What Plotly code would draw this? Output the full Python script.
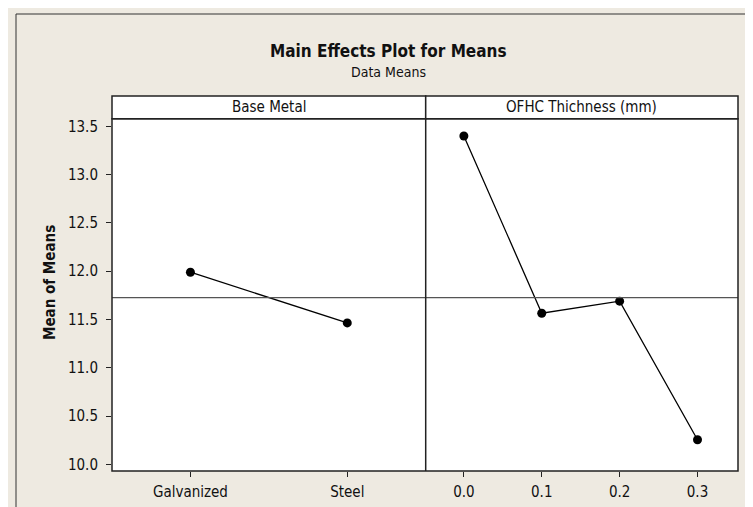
import numpy as np
import plotly.graph_objects as go

# ---- data ----
base_metal_levels = ["Galvanized", "Steel"]
base_metal_means = [11.99, 11.465]
thickness_levels = [0.0, 0.1, 0.2, 0.3]
thickness_means = [13.40, 11.565, 11.69, 10.255]
y_ticks = [10.0, 10.5, 11.0, 11.5, 12.0, 12.5, 13.0, 13.5]
x2_ticks = [0.0, 0.1, 0.2, 0.3]
panel_titles = ["Base Metal", "OFHC Thichness (mm)"]
grand_mean = float(np.mean(thickness_means))

FONT = "DejaVu Sans Condensed, DejaVu Sans, Liberation Sans, sans-serif"
BG = "#EEEAE1"
W, H = 753, 507
L, R, T, B = 104, 23, 88, 44
PW, PH = W - L - R, H - T - B

def px_x(p):
    return (p - L) / PW

def px_y(p):
    return 1 - (p - T) / PH

split = px_x(417.7)
ytop = px_y(110.7)

fig = go.Figure()
fig.add_trace(go.Scatter(
    x=[1, 2], y=base_metal_means, mode="lines+markers",
    line=dict(color="black", width=1.3),
    marker=dict(color="black", size=9),
    xaxis="x", yaxis="y", showlegend=False))
fig.add_trace(go.Scatter(
    x=thickness_levels, y=thickness_means, mode="lines+markers",
    line=dict(color="black", width=1.3),
    marker=dict(color="black", size=9),
    xaxis="x2", yaxis="y2", showlegend=False))

yr = [9.932, 13.579]
axis_common = dict(showline=False, showgrid=False, zeroline=False, ticks="outside",
                   ticklen=5, tickwidth=1.2, tickcolor="#222",
                   tickfont=dict(family=FONT, size=15, color="#111"))

fig.update_layout(
    width=W, height=H,
    margin=dict(l=L, r=R, t=T, b=B, pad=0),
    paper_bgcolor=BG, plot_bgcolor="white",
    xaxis=dict(domain=[0, split], range=[0.5, 2.5], tickvals=[1, 2],
               ticktext=base_metal_levels, anchor="y", ticklabelstandoff=2, **axis_common),
    xaxis2=dict(domain=[split, 1], range=[-0.049, 0.352], tickvals=x2_ticks,
                ticktext=[f"{v:.1f}" for v in x2_ticks], anchor="y2", ticklabelstandoff=2,
                **axis_common),
    yaxis=dict(domain=[0, ytop], range=yr, tickvals=y_ticks,
               ticktext=[f"{v:.1f}" for v in y_ticks], anchor="x", ticklabelstandoff=5,
               **axis_common),
    yaxis2=dict(domain=[0, ytop], range=yr, anchor="x2", showticklabels=False,
                showline=False, showgrid=False, zeroline=False, ticks=""),
)

shapes = []
# outer frame
shapes.append(dict(type="rect", xref="paper", yref="paper",
                   x0=px_x(8), x1=px_x(770), y0=px_y(6), y1=px_y(530),
                   line=dict(color="#333", width=1), fillcolor="rgba(0,0,0,0)", layer="below"))
# header strips
for x0, x1 in [(0, split), (split, 1)]:
    shapes.append(dict(type="rect", xref="paper", yref="paper",
                       x0=x0, x1=x1, y0=ytop, y1=1,
                       line=dict(color="#222", width=1.5), fillcolor="white"))
# grand mean line
shapes.append(dict(type="line", xref="paper", yref="y", x0=0, x1=1,
                   y0=grand_mean, y1=grand_mean, line=dict(color="#555", width=1.2)))
# data area border and divider
shapes.append(dict(type="rect", xref="paper", yref="paper", x0=0, x1=1, y0=0, y1=ytop,
                   line=dict(color="#222", width=1.5), fillcolor="rgba(0,0,0,0)"))
shapes.append(dict(type="line", xref="paper", yref="paper", x0=split, x1=split, y0=0, y1=ytop,
                   line=dict(color="#222", width=1.5)))
fig.update_layout(shapes=shapes)

ann = []
for (x0, x1), t in zip([(0, split), (split, 1)], panel_titles):
    ann.append(dict(text=t, x=(x0 + x1) / 2, y=(ytop + 1) / 2, xref="paper", yref="paper",
                    showarrow=False, font=dict(family=FONT, size=15, color="#111"),
                    xanchor="center", yanchor="middle"))
ann.append(dict(text="<b>Main Effects Plot for Means</b>", x=px_x(380), y=px_y(43),
                xref="paper", yref="paper", showarrow=False,
                font=dict(family=FONT, size=17, color="#111"), xanchor="center", yanchor="middle"))
ann.append(dict(text="Data Means", x=px_x(380), y=px_y(64),
                xref="paper", yref="paper", showarrow=False,
                font=dict(family=FONT, size=14, color="#111"), xanchor="center", yanchor="middle"))
ann.append(dict(text="<b>Mean of Means</b>", x=px_x(42), y=px_y(275),
                xref="paper", yref="paper", showarrow=False, textangle=-90,
                font=dict(family=FONT, size=15, color="#111"), xanchor="center", yanchor="middle"))
fig.update_layout(annotations=ann)

fig.write_html("out.html")
